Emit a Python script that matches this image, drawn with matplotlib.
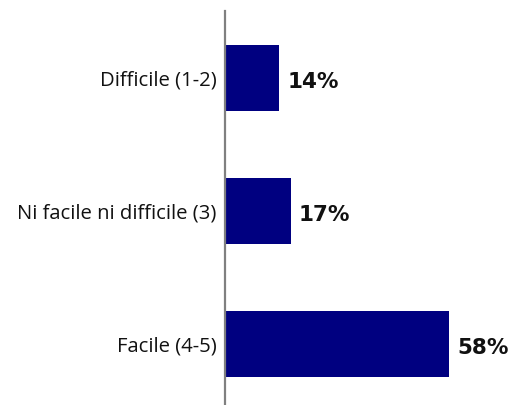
import matplotlib
matplotlib.use("Agg")
import matplotlib.pyplot as plt

categories = ["Difficile (1-2)", "Ni facile ni difficile (3)", "Facile (4-5)"]
values = [14, 17, 58]
value_labels = ["14%", "17%", "58%"]

W, H, DPI = 513, 405, 100
fig = plt.figure(figsize=(W / DPI, H / DPI), dpi=DPI)
left_px, right_px, top_px, bottom_px = 225, 500, 11, 404
ax = fig.add_axes([left_px / W, (H - bottom_px) / H,
                   (right_px - left_px) / W, (bottom_px - top_px) / H])

pos = list(range(len(categories)))
ax.barh(pos, values, height=0.5, color="#000080")
px_per_unit = (449 - 225) / 58.0
ax.set_xlim(0, (right_px - left_px) / px_per_unit)
ax.set_ylim(2 + 0.45, -0.504)

for s in ["top", "right", "bottom"]:
    ax.spines[s].set_visible(False)
ax.spines["left"].set_color("#808080")
ax.spines["left"].set_linewidth(1.6)
ax.set_xticks([])
ax.set_yticks(pos)
ax.set_yticklabels(categories, fontsize=14.6, fontfamily="Open Sans", color="#111111")
ax.tick_params(axis="y", length=0, pad=6)

off = 8 / px_per_unit
for p, v, lab in zip(pos, values, value_labels):
    ax.text(v + off, p + 0.03, lab, va="center", ha="left", fontsize=15.5,
            fontweight="bold", fontfamily="DejaVu Sans", color="#111111")

fig.savefig("out.png", dpi=DPI)
